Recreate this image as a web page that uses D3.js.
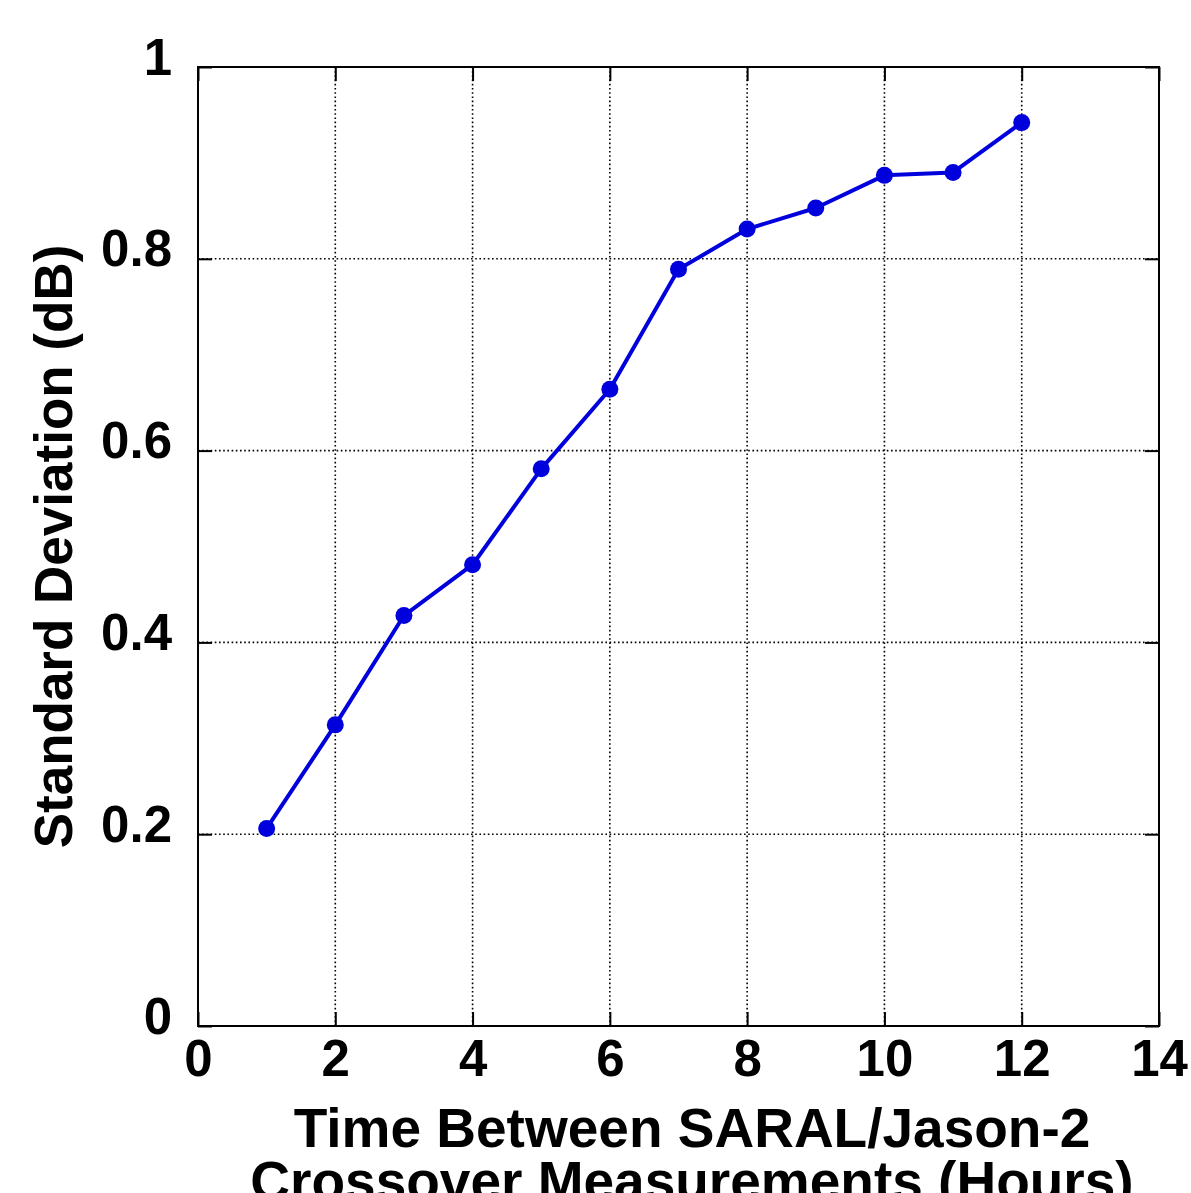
<!DOCTYPE html>
<html>
<head>
<meta charset="utf-8">
<script src="https://cdn.jsdelivr.net/npm/d3@7"></script>
<style>
  html, body { margin: 0; padding: 0; background: #fff; }
  svg { display: block; }
  text { font-family: "Liberation Sans", Arial, Helvetica, sans-serif; font-weight: bold; fill: #000; }
</style>
</head>
<body>
<svg id="chart" width="1191" height="1193"></svg>
<script>
// Hours between SARAL and Jason-2 crossover measurements
const hours = [1, 2, 3, 4, 5, 6, 7, 8, 9, 10, 11, 12];
// Standard deviation of the sigma0 difference (dB)
const stdDev = [0.206, 0.314, 0.428, 0.481, 0.581, 0.664, 0.789, 0.831, 0.853, 0.887, 0.890, 0.942];
const xTicks = [0, 2, 4, 6, 8, 10, 12, 14];
const yTicks = [0, 0.2, 0.4, 0.6, 0.8, 1];
const xTitle = ["Time Between SARAL/Jason-2", "Crossover Measurements (Hours)"];
const yTitle = "Standard Deviation (dB)";

const svg = d3.select("#chart");
const plot = { left: 198, right: 1159, top: 67, bottom: 1026 };

const x = d3.scaleLinear().domain([0, 14]).range([plot.left, plot.right]);
const y = d3.scaleLinear().domain([0, 1]).range([plot.bottom, plot.top]);

const blue = "#0000dc";
const tickLen = 14;
const tickFont = "51px";

// dotted grid
const grid = svg.append("g");
grid.selectAll("line.gx")
  .data(xTicks.filter(d => d > 0 && d < 14))
  .join("line")
  .attr("x1", d => x(d)).attr("x2", d => x(d))
  .attr("y1", plot.top).attr("y2", plot.bottom)
  .attr("stroke", "#000").attr("stroke-width", 1.6)
  .attr("stroke-dasharray", "1.6,2.6");
grid.selectAll("line.gy")
  .data(yTicks.filter(d => d > 0 && d < 1))
  .join("line")
  .attr("x1", plot.left).attr("x2", plot.right)
  .attr("y1", d => y(d)).attr("y2", d => y(d))
  .attr("stroke", "#000").attr("stroke-width", 1.6)
  .attr("stroke-dasharray", "1.6,2.6");

// axes with inward ticks, mirrored on top and right
const fmtY = d => (d === 0 || d === 1) ? String(d) : d3.format(".1f")(d);

const bottomAxis = svg.append("g")
  .attr("transform", `translate(0,${plot.bottom})`)
  .call(d3.axisBottom(x).tickValues(xTicks).tickSize(-tickLen).tickFormat(d3.format("d")));
const topAxis = svg.append("g")
  .attr("transform", `translate(0,${plot.top})`)
  .call(d3.axisTop(x).tickValues(xTicks).tickSize(-tickLen).tickFormat(""));
const leftAxis = svg.append("g")
  .attr("transform", `translate(${plot.left},0)`)
  .call(d3.axisLeft(y).tickValues(yTicks).tickSize(-tickLen).tickFormat(fmtY));
const rightAxis = svg.append("g")
  .attr("transform", `translate(${plot.right},0)`)
  .call(d3.axisRight(y).tickValues(yTicks).tickSize(-tickLen).tickFormat(""));

[bottomAxis, topAxis, leftAxis, rightAxis].forEach(g => {
  g.select(".domain").remove();
  g.selectAll(".tick line").attr("stroke", "#000").attr("stroke-width", 2);
});
bottomAxis.selectAll(".tick text")
  .style("font-size", tickFont).style("font-family", "Liberation Sans, Arial, sans-serif")
  .style("font-weight", "bold").attr("fill", "#000")
  .attr("dy", null).attr("y", 50);
leftAxis.selectAll(".tick text")
  .style("font-size", tickFont).style("font-family", "Liberation Sans, Arial, sans-serif")
  .style("font-weight", "bold").attr("fill", "#000")
  .attr("dy", null).attr("y", 7).attr("x", -26);

// frame
svg.append("rect")
  .attr("x", plot.left).attr("y", plot.top)
  .attr("width", plot.right - plot.left).attr("height", plot.bottom - plot.top)
  .attr("fill", "none").attr("stroke", "#000").attr("stroke-width", 2);

// data line and markers
const line = d3.line().x((d, i) => x(hours[i])).y(d => y(d));
svg.append("path")
  .datum(stdDev)
  .attr("d", line)
  .attr("fill", "none").attr("stroke", blue).attr("stroke-width", 4)
  .attr("stroke-linejoin", "round");
svg.selectAll("circle.pt")
  .data(stdDev)
  .join("circle")
  .attr("class", "pt")
  .attr("cx", (d, i) => x(hours[i])).attr("cy", d => y(d))
  .attr("r", 8.5).attr("fill", blue);

// axis titles
const xt = svg.append("text")
  .attr("text-anchor", "middle")
  .style("font-size", "55px");
xTitle.forEach((t, i) => {
  xt.append("tspan").attr("x", 692).attr("y", 1147 + i * 53).text(t);
});

svg.append("text")
  .attr("transform", `translate(72,${(plot.top + plot.bottom) / 2}) rotate(-90)`)
  .attr("text-anchor", "middle")
  .style("font-size", "53px")
  .text(yTitle);
</script>
</body>
</html>
